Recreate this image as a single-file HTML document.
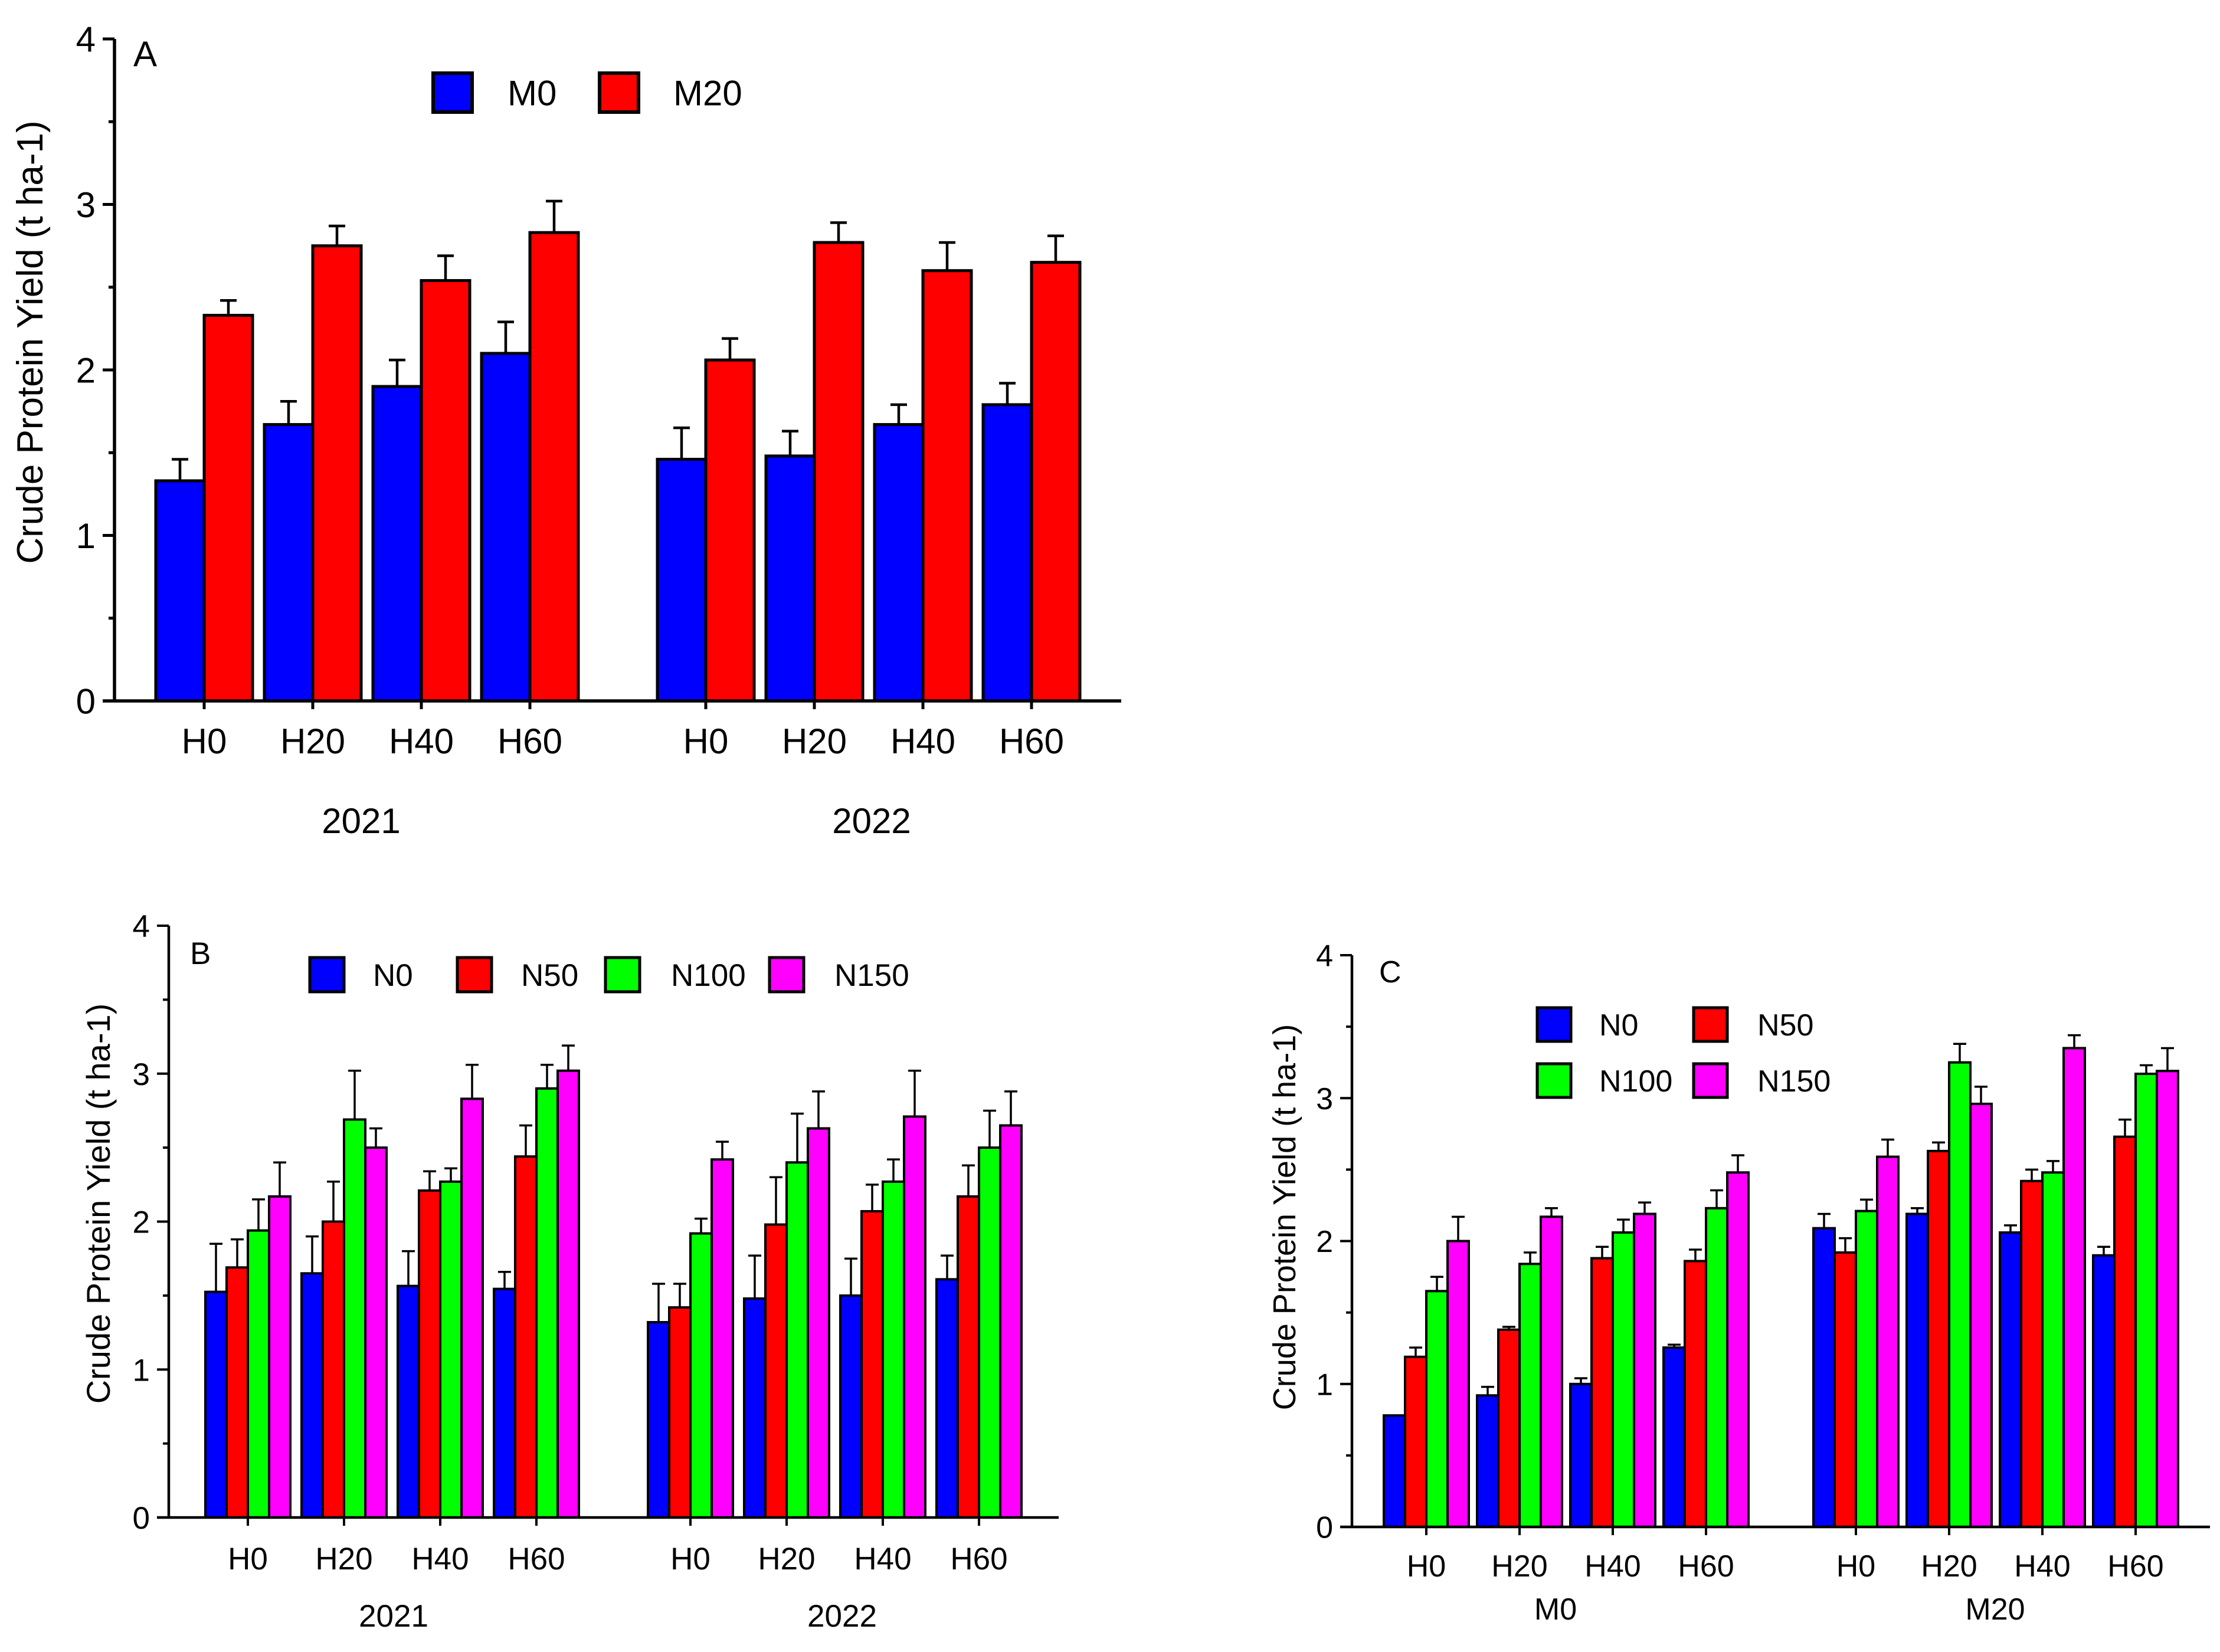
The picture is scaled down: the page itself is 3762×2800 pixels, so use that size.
<!DOCTYPE html>
<html><head><meta charset="utf-8"><title>Crude Protein Yield</title>
<style>html,body{margin:0;padding:0;background:#fff}svg{display:block}text{font-family:"Liberation Sans",sans-serif;fill:#000}</style>
</head><body>
<svg id="fig" xmlns="http://www.w3.org/2000/svg" width="3762" height="2800" viewBox="0 0 3762 2800"></svg>
<script>
// ---------- Panel A data ----------
const aCats = ["H0","H20","H40","H60"];
const aGroups = ["2021","2022"];
const aSeries = ["M0","M20"];
const aM0 = [1.33,1.67,1.90,2.10, 1.46,1.48,1.67,1.79];
const aM0Err = [1.46,1.81,2.06,2.29, 1.65,1.63,1.79,1.92];
const aM20 = [2.33,2.75,2.54,2.83, 2.06,2.77,2.60,2.65];
const aM20Err = [2.42,2.87,2.69,3.02, 2.19,2.89,2.77,2.81];
// ---------- Panel B data ----------
const bCats = ["H0","H20","H40","H60"];
const bGroups = ["2021","2022"];
const bSeries = ["N0","N50","N100","N150"];
const bN0 = [1.525,1.65,1.565,1.545, 1.32,1.48,1.50,1.61];
const bN0Err = [1.85,1.90,1.80,1.66, 1.58,1.77,1.75,1.77];
const bN50 = [1.69,2.00,2.21,2.44, 1.42,1.98,2.07,2.17];
const bN50Err = [1.88,2.27,2.34,2.65, 1.58,2.30,2.25,2.38];
const bN100 = [1.94,2.69,2.27,2.90, 1.92,2.40,2.27,2.50];
const bN100Err = [2.15,3.02,2.36,3.06, 2.02,2.73,2.42,2.75];
const bN150 = [2.17,2.50,2.83,3.02, 2.42,2.63,2.71,2.65];
const bN150Err = [2.40,2.63,3.06,3.19, 2.54,2.88,3.02,2.88];
// ---------- Panel C data ----------
const cCats = ["H0","H20","H40","H60"];
const cGroups = ["M0","M20"];
const cSeries = ["N0","N50","N100","N150"];
const cN0 = [0.78,0.92,1.00,1.255, 2.09,2.19,2.06,1.90];
const cN0Err = [0.78,0.98,1.04,1.275, 2.19,2.23,2.11,1.96];
const cN50 = [1.19,1.38,1.88,1.86, 1.92,2.63,2.42,2.73];
const cN50Err = [1.255,1.40,1.96,1.94, 2.02,2.69,2.50,2.85];
const cN100 = [1.65,1.84,2.06,2.23, 2.21,3.25,2.48,3.17];
const cN100Err = [1.75,1.92,2.15,2.355, 2.29,3.38,2.56,3.23];
const cN150 = [2.00,2.17,2.19,2.48, 2.59,2.96,3.35,3.19];
const cN150Err = [2.17,2.23,2.27,2.60, 2.71,3.08,3.44,3.35];
const yTicks = ["0","1","2","3","4"];

const svg = document.getElementById('fig');
const NS = 'http://www.w3.org/2000/svg';
function mk(tag, attrs, parent){
  const e = document.createElementNS(NS, tag);
  for (const k in attrs) e.setAttribute(k, attrs[k]);
  (parent||svg).appendChild(e);
  return e;
}
const COLORS = {M0:'#0000ff',M20:'#ff0000',N0:'#0000ff',N50:'#ff0000',N100:'#00ff00',N150:'#ff00ff'};

function panel(cfg){
  const g = mk('g',{});
  
  
  const y = v => cfg.y0 - v*(cfg.y0-cfg.y4)/4;
  const cx = (grp,i) => cfg.c0 + i*cfg.step + grp*cfg.gap;
  const nS = cfg.series.length;
  cfg.series.forEach((s,si)=>{
    const vals = cfg.vals[si], errs = cfg.errs[si];
    vals.forEach((v,k)=>{
      const grp = Math.floor(k/cfg.cats.length), i = k%cfg.cats.length;
      const left = cx(grp,i) - nS*cfg.bw/2 + si*cfg.bw;
      const r = mk('rect',{x:left,y:y(v),width:cfg.bw,height:cfg.y0-y(v),fill:COLORS[s],stroke:'#000','stroke-width':cfg.sw},g);
      
      
      const mx = left + cfg.bw/2;
      if (errs[k] > v + 0.005){
        const e = mk('path',{d:`M${mx},${y(v)}V${y(errs[k])}M${mx-cfg.cap},${y(errs[k])}H${mx+cfg.cap}`,stroke:'#000','stroke-width':cfg.sw-0.5,fill:'none'},g);
        
        
      }
    });
  });
  const ax = mk('path',{d:`M${cfg.ax},${cfg.y4}V${cfg.y0}M${cfg.ax-20},${cfg.y0}H${cfg.xend}`,stroke:'#000','stroke-width':cfg.sw+0.5,fill:'none'},g);
  
  
  yTicks.forEach((t,j)=>{
    const yy = y(j);
    mk('line',{x1:cfg.ax-20,x2:cfg.ax,y1:yy,y2:yy,stroke:'#000','stroke-width':cfg.sw},g);
    if (j<4) mk('line',{x1:cfg.ax-10,x2:cfg.ax,y1:y(j+0.5),y2:y(j+0.5),stroke:'#000','stroke-width':cfg.sw},g);
    const tl = mk('text',{x:cfg.ax-32,y:yy+cfg.tfs*0.36,'text-anchor':'end','font-size':cfg.tfs},g);
    tl.textContent = t;
    
    
  });
  cfg.groups.forEach((gname,grp)=>{
    cfg.cats.forEach((c,i)=>{
      const xx = cx(grp,i);
      mk('line',{x1:xx,x2:xx,y1:cfg.y0,y2:cfg.y0+14,stroke:'#000','stroke-width':cfg.sw},g);
      const tl = mk('text',{x:xx,y:cfg.labY,'text-anchor':'middle','font-size':cfg.tfs},g);
      tl.textContent = c;
      
      
    });
    const gl = mk('text',{x:cfg.grpX[grp],y:cfg.grpY,'text-anchor':'middle','font-size':cfg.tfs},g);
    gl.textContent = gname;
    
    
  });
  const yl = mk('text',{x:0,y:0,'text-anchor':'middle','font-size':cfg.yfs,transform:`translate(${cfg.ylx},${cfg.yly}) rotate(-90)`},g);
  yl.textContent = 'Crude Protein Yield (t ha-1)';
  
  
  const pl = mk('text',{x:cfg.letter[0],y:cfg.letter[1],'font-size':cfg.tfs},g);
  pl.textContent = cfg.letterText;
  
  
  cfg.series.forEach((s,si)=>{
    const L = cfg.legend[si];
    const lg = mk('g',{},g);
    
    
    mk('rect',{x:L[0],y:L[1],width:cfg.lw,height:cfg.lh,fill:COLORS[s],stroke:'#000','stroke-width':cfg.sw+1},lg);
    const t = mk('text',{x:L[2],y:L[1]+cfg.lh/2+cfg.tfs*0.36,'font-size':cfg.tfs},lg);
    t.textContent = s;
  });
}

panel({name:'panel-a',letterText:'A',cats:aCats,groups:aGroups,series:aSeries,
  vals:[aM0,aM20],errs:[aM0Err,aM20Err],
  ax:194,y0:1188,y4:66,xend:1900,c0:346,step:184,gap:850,bw:82,sw:5,cap:14,
  tfs:60,yfs:62,labY:1277,grpX:[612,1477],grpY:1412,ylx:72,yly:580,letter:[226,112],
  legend:[[734,124,860],[1016,124,1141]],lw:66,lh:66});

panel({name:'panel-b',letterText:'B',cats:bCats,groups:bGroups,series:bSeries,
  vals:[bN0,bN50,bN100,bN150],errs:[bN0Err,bN50Err,bN100Err,bN150Err],
  ax:286,y0:2572,y4:1569,xend:1794,c0:420,step:163,gap:750,bw:36,sw:4,cap:11,
  tfs:53,yfs:56,labY:2660,grpX:[667,1427],grpY:2757,ylx:186,yly:2040,letter:[322,1634],
  legend:[[525,1623,632],[775,1623,883],[1026,1623,1137],[1304,1623,1414]],lw:58,lh:58});

panel({name:'panel-c',letterText:'C',cats:cCats,groups:cGroups,series:cSeries,
  vals:[cN0,cN50,cN100,cN150],errs:[cN0Err,cN50Err,cN100Err,cN150Err],
  ax:2291,y0:2588,y4:1619,xend:3745,c0:2417,step:158,gap:728,bw:36,sw:4,cap:11,
  tfs:52,yfs:54,labY:2672,grpX:[2636,3381],grpY:2745,ylx:2195,yly:2063,letter:[2337,1665],
  legend:[[2605,1708,2710],[2870,1708,2978],[2605,1803,2710],[2870,1803,2978]],lw:57,lh:57});
</script>
</body></html>
